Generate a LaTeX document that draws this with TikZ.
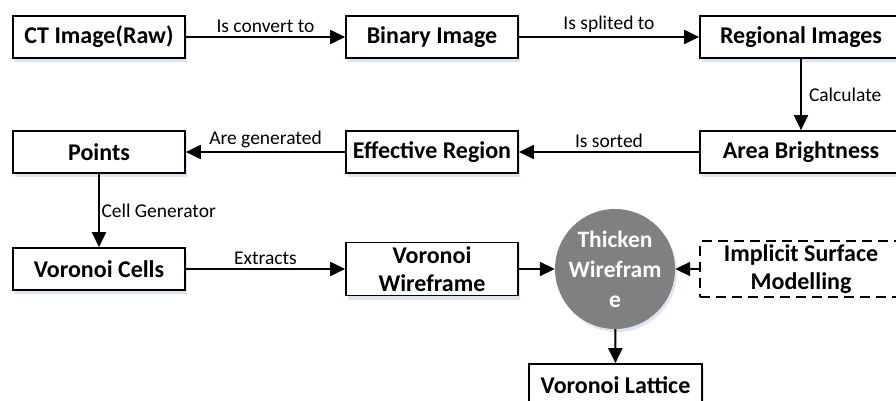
\documentclass[tikz,border=0pt]{standalone}
\usepackage{fontspec}
\setmainfont{Carlito}
\usepackage{xcolor}
\usetikzlibrary{
    arrows.meta,
    shadows,
    positioning
}
\definecolor{shadowblue}{HTML}{DCE6F2}
\definecolor{discgray}{HTML}{808080}
\tikzset{
    stage/.style={draw, line width=1.7pt, fill=white, minimum width=172pt, minimum height=42pt,
        inner sep=0pt, align=center, font=\bfseries\fontsize{24}{28}\selectfont,
        drop shadow={shadow xshift=1.5pt, shadow yshift=-4pt, fill=shadowblue, opacity=1}},
    widestage/.style={stage, minimum width=202pt},
    tallstage/.style={stage, minimum height=53pt},
    extstage/.style={draw, dashed, dash pattern=on 10pt off 6pt, line width=1.7pt, fill=white,
        minimum width=202pt, minimum height=53pt, align=center, font=\bfseries\fontsize{24}{28}\selectfont},
    disc/.style={circle, fill=discgray, minimum size=110pt, inner sep=0pt, align=center,
        text=white, font=\bfseries\fontsize{23.5}{30}\selectfont,
        drop shadow={shadow xshift=2pt, shadow yshift=-3pt, fill=shadowblue, opacity=1}},
    flow/.style={line width=2pt, -{Triangle[length=15pt,width=14pt]}},
    tag/.style={font=\fontsize{19.5}{22}\selectfont, inner sep=3pt}
}

\begin{document}
\begin{tikzpicture}[x=1pt, y=-1pt]
    \useasboundingbox (0, 0) rectangle (896, 401);

    % first row
    \node[stage] (ct) at (99, 37) {CT Image(Raw)};
    \node[stage] (bin) at (432, 37) {Binary Image};
    \node[widestage] (reg) at (801, 37) {Regional Images};

    % second row
    \node[stage] (pts) at (99, 152) {Points};
    \node[stage] (eff) at (432, 152) {Effective Region};
    \node[widestage] (area) at (801, 152) {Area Brightness};

    % third row
    \node[stage] (cells) at (99, 269) {Voronoi Cells};
    \node[tallstage] (wire) at (432, 269) {Voronoi\\Wireframe};
    \node[disc] (thick) at (615, 269) {Thicken\\Wirefram\\e};
    \node[extstage] (impl) at (801, 269) {Implicit Surface\\Modelling};
    \node[stage, minimum width=173pt] (lat) at (615.5, 385) {Voronoi Lattice};

    \draw[flow]
    (ct) edge[above] node[tag]{Is convert to} (bin)
    (bin) edge[above] node[tag]{Is splited to} (reg)
    (reg) edge[right] node[tag, xshift=4pt]{Calculate} (area)
    (area) edge[above] node[tag]{Is sorted} (eff)
    (eff) edge[above] node[tag]{Are generated} (pts)
    (pts) edge[right] node[tag, inner sep=1.5pt]{Cell Generator} (cells)
    (cells) edge[above] node[tag]{Extracts} (wire)
    (wire) edge (thick)
    (impl) edge (thick)
    (thick) edge (lat);
\end{tikzpicture}
\end{document}
